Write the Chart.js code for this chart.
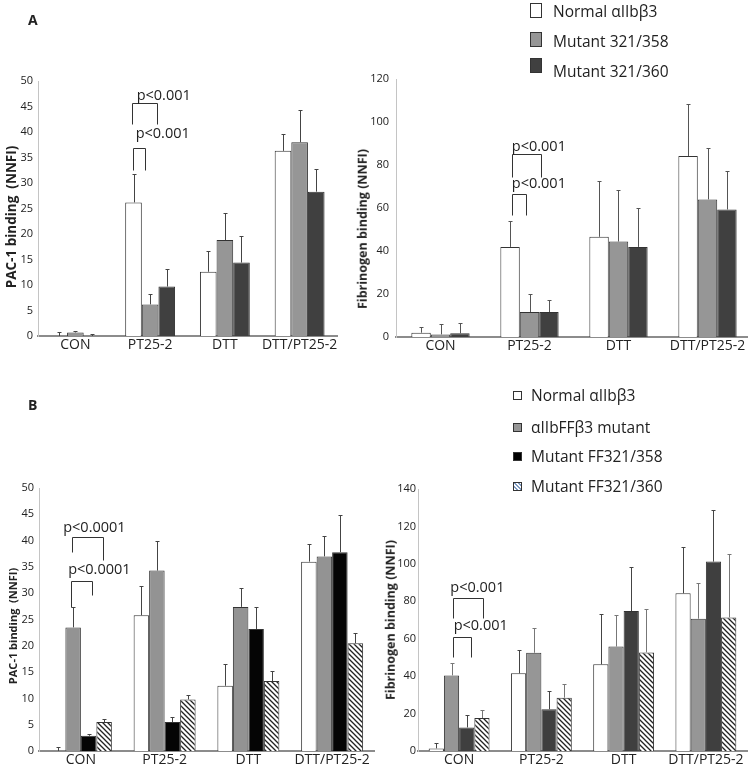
<!DOCTYPE html>
<html>
<head>
<meta charset="utf-8">
<script src="https://cdn.jsdelivr.net/npm/chart.js@4.4.1/dist/chart.umd.min.js"></script>
<style>
  body { margin: 0; width: 748px; height: 771px; overflow: hidden; position: relative; background: #fff; font-family: "Open Sans", sans-serif; color: #222; }
  .panel { position: absolute; }
  .txt { position: absolute; white-space: nowrap; line-height: 1; }
  .ytitle { position: absolute; white-space: nowrap; font-weight: bold; line-height: 1; transform: translate(-50%, -50%) rotate(-90deg); }
  .sq { position: absolute; box-sizing: border-box; border: 1px solid #333; }
  .leg { font-size: 15.5px; }
</style>
</head>
<body>

<canvas class="panel" id="aPac" width="346" height="365" style="left:0;top:0"></canvas>
<canvas class="panel" id="aFib" width="410" height="365" style="left:346px;top:0"></canvas>
<canvas class="panel" id="bPac" width="380" height="391" style="left:0;top:380px"></canvas>
<canvas class="panel" id="bFib" width="372" height="391" style="left:380px;top:380px"></canvas>

<div class="txt" style="left:28px;top:13px;font-size:14px;font-weight:bold">A</div>
<div class="txt" style="left:28px;top:398px;font-size:14px;font-weight:bold">B</div>

<div class="ytitle" style="left:12px;top:217px;font-size:13.5px">PAC-1 binding&nbsp;&nbsp;(NNFI)</div>
<div class="ytitle" style="left:363px;top:229px;font-size:12.5px">Fibrinogen binding (NNFI)</div>
<div class="ytitle" style="left:12px;top:626px;font-size:11px">PAC-1 binding&nbsp;&nbsp;(NNFI)</div>
<div class="ytitle" style="left:391px;top:620px;font-size:12.5px">Fibrinogen binding (NNFI)</div>

<!-- legend A -->
<div class="sq" style="left:530px;top:3px;width:12px;height:15px;background:#fff"></div>
<div class="sq" style="left:530px;top:32px;width:12px;height:15px;background:#969696"></div>
<div class="sq" style="left:530px;top:58px;width:12px;height:15px;background:#404040"></div>
<div class="txt leg" style="left:553px;top:3.5px">Normal αIIbβ3</div>
<div class="txt leg" style="left:553px;top:33.5px">Mutant 321/358</div>
<div class="txt leg" style="left:553px;top:63.5px">Mutant 321/360</div>

<!-- legend B -->
<div class="sq" style="left:513px;top:391px;width:9px;height:9px;background:#fff"></div>
<div class="sq" style="left:513px;top:423px;width:9px;height:9px;background:#969696"></div>
<div class="sq" style="left:513px;top:452px;width:9px;height:9px;background:#000"></div>
<div class="sq" style="left:513px;top:482px;width:9px;height:9px;background:repeating-linear-gradient(45deg,#fff 0 1.5px,#7f9cc4 1.5px 3px)"></div>
<div class="txt leg" style="left:531px;top:387.5px">Normal αIIbβ3</div>
<div class="txt leg" style="left:531px;top:419.5px">αIIbFFβ3 mutant</div>
<div class="txt leg" style="left:531px;top:448.5px">Mutant FF321/358</div>
<div class="txt leg" style="left:531px;top:478.5px">Mutant FF321/360</div>

<script>
const categories = ['CON', 'PT25-2', 'DTT', 'DTT/PT25-2'];

// A, PAC-1 binding
const aPacNormal = [0, 26.2, 12.6, 36.3];
const aPacNormalErr = [0.85, 5.5, 4.1, 3.4];
const aPac358 = [0.7, 6.2, 18.8, 38.0];
const aPac358Err = [0.3, 2.0, 5.4, 6.3];
const aPac360 = [0, 9.7, 14.4, 28.3];
const aPac360Err = [0.4, 3.4, 5.3, 4.4];

// A, fibrinogen binding
const aFibNormal = [2.0, 41.9, 46.6, 84.2];
const aFibNormalErr = [2.7, 12.1, 26.1, 24.3];
const aFib358 = [1.2, 11.6, 44.4, 64.0];
const aFib358Err = [5.0, 8.6, 23.9, 23.7];
const aFib360 = [1.7, 11.6, 41.9, 59.3];
const aFib360Err = [5.0, 5.4, 17.9, 18.0];

// B, PAC-1 binding
const bPacNormal = [0, 25.8, 12.4, 36.0];
const bPacNormalErr = [0.8, 5.5, 4.2, 3.4];
const bPacFF = [23.5, 34.3, 27.4, 37.0];
const bPacFFErr = [3.8, 5.7, 3.6, 3.8];
const bPac358 = [2.9, 5.5, 23.2, 37.8];
const bPac358Err = [0.4, 0.9, 4.1, 7.1];
const bPac360 = [5.5, 9.8, 13.3, 20.5];
const bPac360Err = [0.6, 0.8, 2.0, 1.9];

// B, fibrinogen binding
const bFibNormal = [1.4, 41.5, 46.3, 84.3];
const bFibNormalErr = [2.7, 12.3, 26.7, 24.9];
const bFibFF = [40.4, 52.5, 55.8, 70.7];
const bFibFFErr = [6.4, 13.0, 16.9, 18.9];
const bFib358 = [12.6, 22.3, 74.8, 101.2];
const bFib358Err = [6.5, 9.9, 23.7, 27.6];
const bFib360 = [17.6, 28.5, 52.7, 71.4];
const bFib360Err = [4.3, 7.3, 23.3, 33.9];

// significance brackets: x in bar widths from group centre, y in data units
const aPacBrackets = [
    { cat: 1, left: -1.07, right: 0.41, top: 45.6, leftEnd: 41.5, rightEnd: 41.5, text: 'p<0.001', tx: -0.81, ty: 47.1 },
    { cat: 1, left: -1.03, right: -0.33, top: 36.8, leftEnd: 32.5, rightEnd: 32.5, text: 'p<0.001', tx: -0.87, ty: 39.7 }
];
const aFibBrackets = [
    { cat: 1, left: -0.88, right: 0.57, top: 85.1, leftEnd: 74.6, rightEnd: 74.6, text: 'p<0.001', tx: -0.91, ty: 88.5 },
    { cat: 1, left: -0.88, right: -0.16, top: 66.4, leftEnd: 56.7, rightEnd: 56.7, text: 'p<0.001', tx: -0.91, ty: 71.2 }
];
const bPacBrackets = [
    { cat: 0, left: -0.58, right: 1.44, top: 40.6, leftEnd: 37.9, rightEnd: 36.3, text: 'p<0.0001', tx: -1.14, ty: 42.4 },
    { cat: 0, left: -0.63, right: 0.71, top: 32.3, leftEnd: 27.4, rightEnd: 29.7, text: 'p<0.0001', tx: -0.82, ty: 34.4 }
];
const bFibBrackets = [
    { cat: 0, left: -0.41, right: 1.56, top: 81.9, leftEnd: 71.1, rightEnd: 71.1, text: 'p<0.001', tx: -0.58, ty: 87.0 },
    { cat: 0, left: -0.42, right: 0.77, top: 61.1, leftEnd: 50.1, rightEnd: 50.1, text: 'p<0.001', tx: -0.36, ty: 66.8 }
];

function hatchPattern() {
    const c = document.createElement('canvas');
    c.width = 5; c.height = 5;
    const g = c.getContext('2d');
    g.fillStyle = '#fff';
    g.fillRect(0, 0, 5, 5);
    g.strokeStyle = '#222';
    g.lineWidth = 1.3;
    g.beginPath();
    g.moveTo(0, 0); g.lineTo(5, 5);
    g.moveTo(-1, 4); g.lineTo(1, 6);
    g.moveTo(4, -1); g.lineTo(6, 1);
    g.stroke();
    return document.createElement('canvas').getContext('2d').createPattern(c, 'repeat');
}
const hatch = hatchPattern();

const errorBars = {
    id: 'errorBars',
    afterDatasetsDraw(chart) {
        const ctx = chart.ctx, y = chart.scales.y;
        chart.data.datasets.forEach((ds, i) => {
            chart.getDatasetMeta(i).data.forEach((bar, j) => {
                const x = Math.round(bar.x) + 0.5;
                const top = Math.round(y.getPixelForValue(ds.data[j] + ds.err[j])) + 0.5;
                ctx.save();
                ctx.strokeStyle = ds.errColor;
                ctx.lineWidth = 1;
                ctx.beginPath();
                ctx.moveTo(x, bar.y); ctx.lineTo(x, top);
                ctx.moveTo(x - 2, top); ctx.lineTo(x + 2, top);
                ctx.stroke();
                ctx.restore();
            });
        });
    }
};

const brackets = {
    id: 'brackets',
    afterDraw(chart, args, opts) {
        const ctx = chart.ctx, y = chart.scales.y, xs = chart.scales.x;
        (opts.items || []).forEach(b => {
            const bw = chart.getDatasetMeta(0).data[b.cat].width;
            const cx = xs.getPixelForValue(b.cat);
            const px = v => Math.round(cx + v * bw) + 0.5;
            const py = v => Math.round(y.getPixelForValue(v)) + 0.5;
            ctx.save();
            ctx.strokeStyle = '#333';
            ctx.lineWidth = 1;
            ctx.beginPath();
            ctx.moveTo(px(b.left), py(b.leftEnd));
            ctx.lineTo(px(b.left), py(b.top));
            ctx.lineTo(px(b.right), py(b.top));
            ctx.lineTo(px(b.right), py(b.rightEnd));
            ctx.stroke();
            ctx.fillStyle = '#222';
            ctx.font = '14.5px "Open Sans"';
            ctx.textAlign = 'left';
            ctx.textBaseline = 'middle';
            ctx.fillText(b.text, cx + b.tx * bw, y.getPixelForValue(b.ty));
            ctx.restore();
        });
    }
};

function series(label, data, err, fill, errColor) {
    return { label, data, err, errColor: errColor || '#444', backgroundColor: fill, borderColor: '#333', borderWidth: 1 };
}

function makeChart(id, datasets, p) {
    return new Chart(document.getElementById(id), {
        type: 'bar',
        data: { labels: categories, datasets },
        plugins: [errorBars, brackets],
        options: {
            responsive: false,
            animation: false,
            datasets: { bar: { categoryPercentage: p.group, barPercentage: 1 } },
            layout: { padding: { left: 0, top: p.top, right: p.right, bottom: 0 } },
            plugins: { legend: { display: false }, tooltip: { enabled: false }, brackets: { items: p.brackets } },
            scales: {
                x: {
                    grid: { display: false, drawTicks: false },
                    border: { color: '#8c8c8c', width: 2 },
                    ticks: { color: '#222', font: { family: 'Open Sans', size: 14 }, padding: 1, maxRotation: 0, autoSkip: false },
                    afterFit: s => { s.height = p.xHeight; }
                },
                y: {
                    min: 0, max: p.max,
                    grid: { display: false, drawTicks: false },
                    border: { color: '#c4c4c4', width: 1 },
                    ticks: { stepSize: p.step, color: '#222', font: { family: 'Open Sans', size: 11 }, padding: p.tickPad },
                    afterFit: s => { s.width = p.yWidth; }
                }
            }
        }
    });
}

makeChart('aPac', [
    series('Normal αIIbβ3', aPacNormal, aPacNormalErr, '#fff'),
    series('Mutant 321/358', aPac358, aPac358Err, '#969696'),
    series('Mutant 321/360', aPac360, aPac360Err, '#404040')
], { group: 0.667, top: 81, right: 9, xHeight: 29, yWidth: 38, max: 50, step: 5, tickPad: 5, brackets: aPacBrackets });

makeChart('aFib', [
    series('Normal αIIbβ3', aFibNormal, aFibNormalErr, '#fff', '#555'),
    series('Mutant 321/358', aFib358, aFib358Err, '#969696', '#555'),
    series('Mutant 321/360', aFib360, aFib360Err, '#404040', '#555')
], { group: 0.655, top: 79, right: 4, xHeight: 28, yWidth: 50, max: 120, step: 20, tickPad: 7, brackets: aFibBrackets });

makeChart('bPac', [
    series('Normal αIIbβ3', bPacNormal, bPacNormalErr, '#fff'),
    series('αIIbFFβ3 mutant', bPacFF, bPacFFErr, '#939393'),
    series('Mutant FF321/358', bPac358, bPac358Err, '#050505'),
    series('Mutant FF321/360', bPac360, bPac360Err, hatch)
], { group: 0.74, top: 108, right: 6, xHeight: 20, yWidth: 39, max: 50, step: 5, tickPad: 5, brackets: bPacBrackets });

makeChart('bFib', [
    series('Normal αIIbβ3', bFibNormal, bFibNormalErr, '#fff'),
    series('αIIbFFβ3 mutant', bFibFF, bFibFFErr, '#969696', '#777'),
    series('Mutant FF321/358', bFib358, bFib358Err, '#3f3f3f'),
    series('Mutant FF321/360', bFib360, bFib360Err, hatch, '#777')
], { group: 0.74, top: 109, right: 5, xHeight: 20, yWidth: 38, max: 140, step: 20, tickPad: 2, brackets: bFibBrackets });
</script>
</body>
</html>
